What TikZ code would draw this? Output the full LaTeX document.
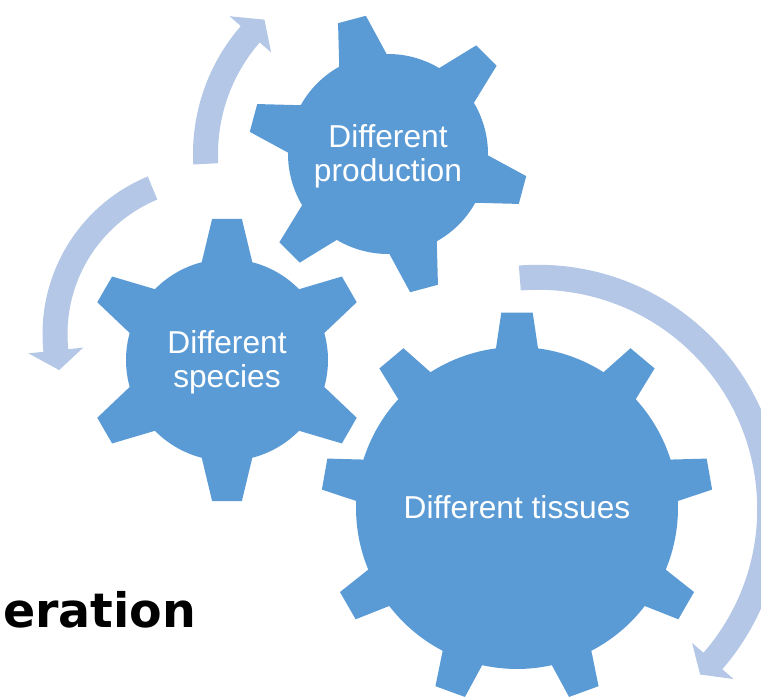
\documentclass[tikz,border=0pt]{standalone}
\usepackage{fontspec}
\setmainfont{Liberation Sans}
\newfontfamily\titlefont{DejaVu Sans}
\usetikzlibrary{calc}
\definecolor{gearblue}{HTML}{5B9BD5}
\definecolor{bandblue}{HTML}{B4C7E7}

\newcommand{\drawgear}[7]{%
  \fill[gearbody, shift={(#1)}] ({#3-#6}:#4)
    \foreach \k in {1,...,#2} {
      -- ({#3+(\k-1)*360/#2-#7}:#5) -- ({#3+(\k-1)*360/#2+#7}:#5)
      -- ({#3+(\k-1)*360/#2+#6}:#4)
      arc[start angle={#3+(\k-1)*360/#2+#6}, end angle={#3+\k*360/#2-#6}, radius=#4]
    } -- cycle;}
\newcommand{\drawband}[5]{%
  \fill[arrowband, shift={(#1)}] (#3:{#2+12.5})
    arc[start angle=#3, end angle=#4, radius={#2+12.5}]
    -- (#4:{#2+27.5}) -- (#5:#2) -- (#4:{#2-27.5}) -- (#4:{#2-12.5})
    arc[start angle=#4, end angle=#3, radius={#2-12.5}] -- cycle;}

\begin{document}
\begin{tikzpicture}[
        x=1pt, y=1pt,
        gearbody/.style={fill=gearblue},
        arrowband/.style={fill=bandblue},
        geartext/.style={text=white, align=center, inner sep=0pt, yshift=-2pt, font=\fontsize{31.7}{34}\selectfont}
    ]
        \path[use as bounding box] (0,0) rectangle (761,700);
        \clip (0,0) rectangle (761,700);

        \coordinate (prodc) at (388,546);
        \coordinate (specc) at (227,340);
        \coordinate (tissc) at (517,192);
        \coordinate (leftc) at (213,366);
        \coordinate (rightc) at (538,191);

        \drawband{prodc}{182.5}{183.1}{139}{132.6}
        \drawband{leftc}{158}{112.5}{186}{193.2}
        \drawband{rightc}{231.7}{94.5}{-41}{-45.6}

        \drawgear{prodc}{6}{45}{100}{140}{14.2}{5.9}
        \drawgear{specc}{6}{30}{101}{142}{14.5}{6}
        \drawgear{tissc}{9}{90}{161}{196}{7.5}{4.6}

        \node[geartext] (prod) at (prodc) {Different\\production};
        \node[geartext] (spec) at (specc) {Different\\species};
        \node[geartext, yshift=3pt] (tiss) at (tissc) {Different tissues};
        \node[anchor=base west, inner sep=0pt, font=\titlefont\bfseries\fontsize{47.5}{52}\selectfont] (title) at (3,72) {eration};
    \end{tikzpicture}
\end{document}
